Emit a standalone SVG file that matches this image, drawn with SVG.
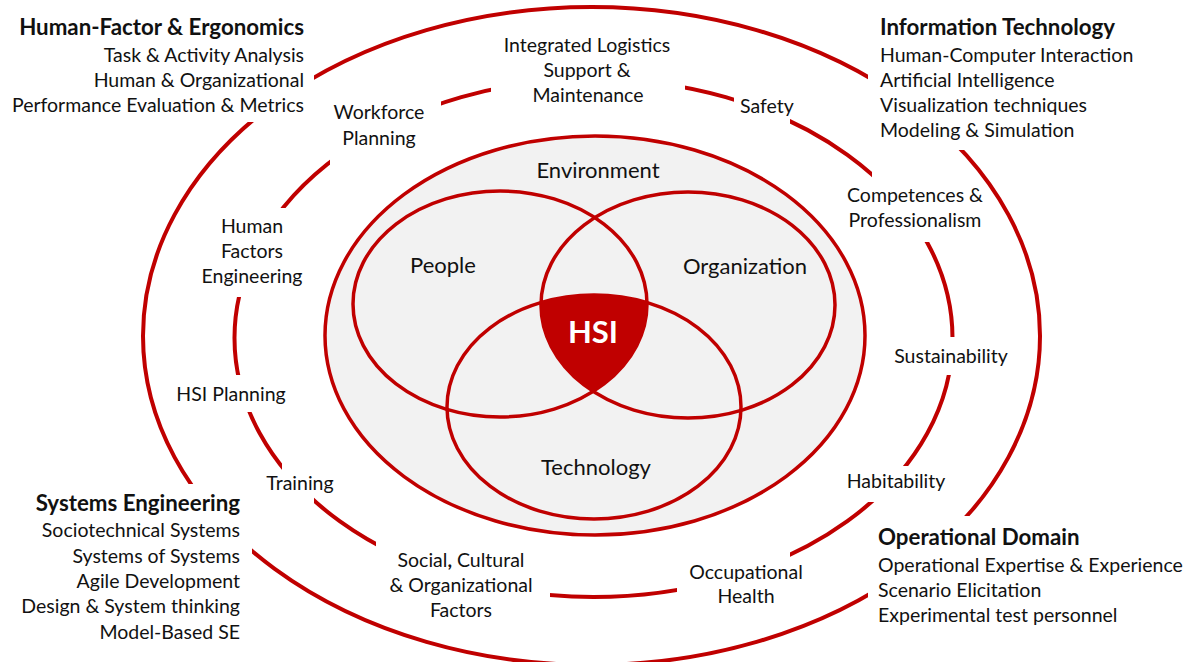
<svg xmlns="http://www.w3.org/2000/svg" width="1188" height="662" viewBox="0 0 1188 662">
<style>
text{font-family:Lato,"Liberation Sans",sans-serif;font-size:19.5px;fill:#111}
.h{font-weight:bold;font-size:22.3px}
.c{text-anchor:middle}
.r{text-anchor:end}
.in{font-size:22px}
.ring{fill:none;stroke:#c00000;stroke-width:4}
.venn{fill:none;stroke:#c00000;stroke-width:3.5}
.hsi{font-weight:bold;font-size:31px;fill:#fff}
</style>
<defs>
<mask id="mOuter" maskUnits="userSpaceOnUse" x="0" y="0" width="1188" height="662">
<rect x="0" y="0" width="1188" height="662" fill="#fff"/>
<rect x="0" y="0" width="314" height="122" fill="#000"/>
<rect x="868" y="0" width="320" height="150" fill="#000"/>
<rect x="0" y="484" width="252" height="178" fill="#000"/>
<rect x="868" y="516" width="320" height="146" fill="#000"/>
</mask>
<mask id="mMid" maskUnits="userSpaceOnUse" x="0" y="0" width="1188" height="662">
<rect x="0" y="0" width="1188" height="662" fill="#fff"/>
<rect x="491" y="30" width="194" height="80" fill="#000"/>
<rect x="330" y="98" width="111" height="68" fill="#000"/>
<rect x="734" y="90" width="56" height="40" fill="#000"/>
<rect x="872" y="172" width="58" height="70" fill="#000"/>
<rect x="890" y="337" width="122" height="38" fill="#000"/>
<rect x="866" y="466" width="46" height="36" fill="#000"/>
<rect x="677" y="550" width="113" height="50" fill="#000"/>
<rect x="376" y="538" width="174" height="66" fill="#000"/>
<rect x="282" y="462" width="32" height="44" fill="#000"/>
<rect x="175" y="375" width="115" height="37" fill="#000"/>
<rect x="196" y="208" width="114" height="89" fill="#000"/>
</mask>
<clipPath id="cOrg"><ellipse cx="688" cy="305" rx="147" ry="113"/></clipPath>
<clipPath id="cTech"><ellipse cx="594" cy="407" rx="147" ry="112"/></clipPath>
</defs>

<g id="connectors">
<ellipse id="outer-ring" class="ring" cx="591.5" cy="336" rx="448.5" ry="329" mask="url(#mOuter)"/>
<ellipse id="middle-ring" class="ring" cx="593.5" cy="338" rx="359" ry="259" mask="url(#mMid)"/>
</g>

<g id="environment">
<ellipse cx="595" cy="335.5" rx="270" ry="199.5" fill="#f2f2f2" stroke="#c00000" stroke-width="3.5"/>
<text class="c in" x="598" y="178">Environment</text>
</g>

<g id="people">
<ellipse class="venn" cx="500" cy="304" rx="147" ry="113"/>
<text class="c in" x="443" y="273">People</text>
</g>
<g id="organization">
<ellipse class="venn" cx="688" cy="305" rx="147" ry="113"/>
<text class="c in" x="745" y="274">Organization</text>
</g>
<g id="technology">
<ellipse class="venn" cx="594" cy="407" rx="147" ry="112"/>
<text class="c in" x="596" y="475">Technology</text>
</g>
<g id="hsi">
<g clip-path="url(#cOrg)"><ellipse cx="500" cy="304" rx="147" ry="113" fill="#c00000" clip-path="url(#cTech)"/></g>
<text class="c hsi" x="593" y="343">HSI</text>
</g>

<g id="hfe-domain">
<text class="r h" x="304" y="35">Human-Factor &amp; Ergonomics</text>
<text class="r" x="304" y="62">Task &amp; Activity Analysis</text>
<text class="r" x="304" y="87">Human &amp; Organizational</text>
<text class="r" x="304" y="112">Performance Evaluation &amp; Metrics</text>
</g>
<g id="it-domain">
<text class="h" x="880" y="35">Information Technology</text>
<text x="880" y="62">Human-Computer Interaction</text>
<text x="880" y="87">Artificial Intelligence</text>
<text x="880" y="112">Visualization techniques</text>
<text x="880" y="137">Modeling &amp; Simulation</text>
</g>
<g id="se-domain">
<text class="r h" x="240" y="511">Systems Engineering</text>
<text class="r" x="240" y="537">Sociotechnical Systems</text>
<text class="r" x="240" y="563">Systems of Systems</text>
<text class="r" x="240" y="588">Agile Development</text>
<text class="r" x="240" y="613">Design &amp; System thinking</text>
<text class="r" x="240" y="639">Model-Based SE</text>
</g>
<g id="op-domain">
<text class="h" x="878" y="545">Operational Domain</text>
<text x="878" y="572">Operational Expertise &amp; Experience</text>
<text x="878" y="597">Scenario Elicitation</text>
<text x="878" y="622">Experimental test personnel</text>
</g>

<g id="ils"><text class="c" x="587" y="52">Integrated Logistics</text><text class="c" x="587" y="77">Support &amp;</text><text class="c" x="588" y="102">Maintenance</text></g>
<g id="workforce"><text class="c" x="379" y="119">Workforce</text><text class="c" x="379" y="145">Planning</text></g>
<g id="safety"><text class="c" x="767" y="113">Safety</text></g>
<g id="competences"><text class="c" x="915" y="202">Competences &amp;</text><text class="c" x="915" y="227">Professionalism</text></g>
<g id="sustainability"><text class="c" x="951" y="363">Sustainability</text></g>
<g id="habitability"><text class="c" x="896" y="488">Habitability</text></g>
<g id="occupational"><text class="c" x="746" y="579">Occupational</text><text class="c" x="746" y="603">Health</text></g>
<g id="social"><text class="c" x="461" y="567">Social<tspan font-weight="bold">,</tspan> Cultural</text><text class="c" x="461" y="592">&amp; Organizational</text><text class="c" x="461" y="617">Factors</text></g>
<g id="training"><text class="c" x="300" y="490">Training</text></g>
<g id="hsi-planning"><text class="c" x="231" y="401">HSI Planning</text></g>
<g id="hfe"><text class="c" x="252" y="233">Human</text><text class="c" x="252" y="258">Factors</text><text class="c" x="252" y="283">Engineering</text></g>
</svg>
